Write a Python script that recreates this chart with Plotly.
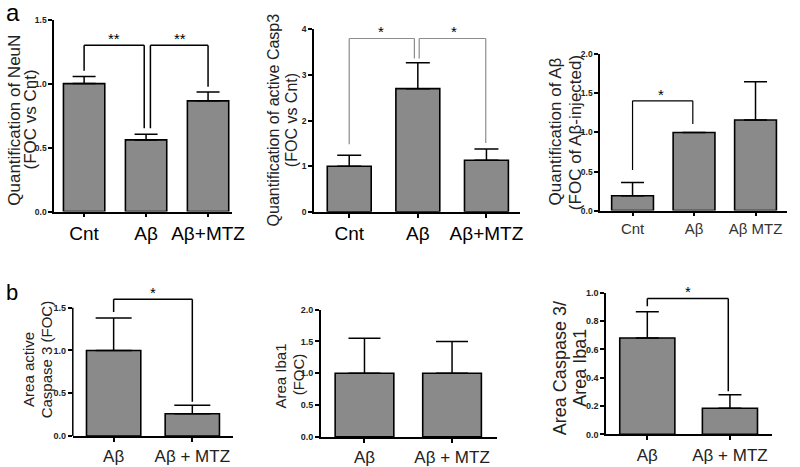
import plotly.graph_objects as go

# ---------------- data ----------------
cats_a = ["Cnt", "Aβ", "Aβ+MTZ"]
cats_a3 = ["Cnt", "Aβ", "Aβ MTZ"]
cats_b = ["Aβ", "Aβ + MTZ"]

neun_mean = [1.0, 0.56, 0.865]
neun_err = [0.055, 0.045, 0.07]

casp3_mean = [1.0, 2.70, 1.13]
casp3_err = [0.24, 0.57, 0.25]

abeta_mean = [0.19, 1.0, 1.16]
abeta_err = [0.17, 0.0, 0.49]

area_casp3_mean = [1.0, 0.26]
area_casp3_err = [0.38, 0.10]

iba1_mean = [1.0, 1.0]
iba1_err = [0.55, 0.50]

ratio_mean = [0.68, 0.184]
ratio_err = [0.185, 0.096]

yticks_a1 = [0.0, 0.5, 1.0, 1.5]
yticks_a2 = [0, 1, 2, 3, 4]
yticks_a3 = [0.0, 0.5, 1.0, 1.5, 2.0]
yticks_b1 = [0.0, 0.5, 1.0, 1.5]
yticks_b2 = [0.0, 0.5, 1.0, 1.5, 2.0]
yticks_b3 = [0.0, 0.2, 0.4, 0.6, 0.8, 1.0]

# significance brackets: (x_left, x_right, y_bar, y_left_end, y_right_end, label, x_label, y_label)
brackets_a1 = [(0.0, 0.97, 1.30, 1.10, 0.65, "**", 0.48, 1.30),
               (1.07, 2.0, 1.30, 0.65, 0.975, "**", 1.54, 1.30)]
brackets_a2 = [(0.0, 0.95, 3.80, 1.48, 3.36, "*", 0.47, 3.80),
               (1.02, 1.99, 3.80, 3.36, 1.51, "*", 1.53, 3.80)]
brackets_a3 = [(0.0, 0.98, 1.405, 0.52, 1.11, "*", 0.47, 1.405)]
brackets_b1 = [(0.0, 1.0, 1.60, 1.45, 0.40, "*", 0.5, 1.60)]
brackets_b2 = []
brackets_b3 = [(0.0, 0.98, 0.96, 0.905, 0.305, "*", 0.49, 0.96)]

W, H = 800, 467
FONT = "Liberation Sans, Arial, sans-serif"
BAR = "#8a8a8a"


def px(x):
    return x / W


def py(y):
    return 1 - y / H


panels = [
    dict(i=1, cats=cats_a, m=neun_mean, e=neun_err, xd=(55, 236), yd=(212, 15), yr=(0, 1.5),
         xr=(-0.484, 2.389), w=0.667, cap=11.5, yt=yticks_a1, fmt=".1f", cf=19, cc="black",
         br=brackets_a1, bc="black", bw=1.5, top=None),
    dict(i=2, cats=cats_a, m=casp3_mean, e=casp3_err, xd=(319, 529), yd=(212.3, 25), yr=(0, 4),
         xr=(-0.516, 2.495), w=0.64, cap=12, yt=yticks_a2, fmt="d", cf=19, cc="black",
         br=brackets_a2, bc="#8c8c8c", bw=1.2, top=None),
    dict(i=3, cats=cats_a3, m=abeta_mean, e=abeta_err, xd=(610, 800), yd=(211, 50.7), yr=(0, 2),
         xr=(-0.528, 2.512), w=0.68, cap=11.5, yt=yticks_a3, fmt=".1f", cf=15, cc="#333333",
         br=brackets_a3, bc="black", bw=1.2, top=None),
    dict(i=4, cats=cats_b, m=area_casp3_mean, e=area_casp3_err, xd=(74, 237), yd=(442.3, 295), yr=(0, 1.679),
         xr=(-0.519, 1.519), w=0.69, cap=18, yt=yticks_b1, fmt=".1f", cf=17, cc="#222222",
         br=brackets_b1, bc="black", bw=1.5, top=1.5),
    dict(i=5, cats=cats_b, m=iba1_mean, e=iba1_err, xd=(326, 505), yd=(443.3, 312.7), yr=(0, 2),
         xr=(-0.5, 1.511), w=0.67, cap=16, yt=yticks_b2, fmt=".1f", cf=17, cc="#222222",
         br=brackets_b2, bc="black", bw=1.5, top=None),
    dict(i=6, cats=cats_b, m=ratio_mean, e=ratio_err, xd=(616, 785), yd=(440.7, 295.3), yr=(0, 1),
         xr=(-0.5, 1.512), w=0.667, cap=11.5, yt=yticks_b3, fmt=".1f", cf=17, cc="#222222",
         br=brackets_b3, bc="black", bw=1.5, top=None),
]

fig = go.Figure()
shapes = []
annotations = []

for p in panels:
    i = p["i"]
    xa = "x" if i == 1 else f"x{i}"
    ya = "y" if i == 1 else f"y{i}"
    xkey = "xaxis" if i == 1 else f"xaxis{i}"
    ykey = "yaxis" if i == 1 else f"yaxis{i}"
    n = len(p["m"])
    fig.add_trace(go.Bar(
        x=p["cats"], y=p["m"], xaxis=xa, yaxis=ya, width=p["w"],
        marker=dict(color=BAR, line=dict(color="black", width=1.6)),
        error_y=dict(type="data", array=p["e"], arrayminus=[0] * n, symmetric=False,
                     color="black", thickness=1.5, width=p["cap"]),
        hoverinfo="skip",
    ))
    fig.layout[xkey] = dict(
        domain=[px(p["xd"][0]), px(p["xd"][1])], anchor=ya, type="category",
        categoryorder="array", categoryarray=p["cats"], range=list(p["xr"]),
        showline=True, linecolor="black", linewidth=1.5, ticks="outside",
        ticklen=4, tickwidth=1.5, tickcolor="black", showgrid=False, zeroline=False,
        tickfont=dict(family=FONT, size=p["cf"], color=p["cc"]),
    )
    fig.layout[ykey] = dict(
        domain=[py(p["yd"][0]), py(p["yd"][1])], anchor=xa, range=list(p["yr"]),
        showline=p["top"] is None, linecolor="black", linewidth=1.5, ticks="outside",
        ticklen=4, tickwidth=1.5, tickcolor="black", showgrid=False, zeroline=False,
        tickmode="array", tickvals=p["yt"],
        ticktext=[format(v, p["fmt"]) if p["fmt"] != "d" else str(int(v)) for v in p["yt"]],
        tickfont=dict(family=FONT, size=8.5 if i <= 3 else 9, color="#222222", weight="bold"),
    )
    if p["top"] is not None:
        shapes.append(dict(type="line", xref=f"{xa} domain", yref=ya, x0=0, x1=0,
                           y0=0, y1=p["top"], line=dict(color="black", width=1.5)))
    for (x0, x1, yb, yl, yr_, lab, xl, yl2) in p["br"]:
        for seg in [(x0, yl, x0, yb), (x0, yb, x1, yb), (x1, yb, x1, yr_)]:
            shapes.append(dict(type="line", xref=xa, yref=ya, x0=seg[0], y0=seg[1],
                               x1=seg[2], y1=seg[3], line=dict(color=p["bc"], width=p["bw"])))
        annotations.append(dict(text=lab, xref=xa, yref=ya, x=xl, y=yl2, showarrow=False,
                                xanchor="center", yanchor="bottom", yshift=-4,
                                font=dict(family=FONT, size=15, color="black")))

# axis titles (two lines each)
titles = [
    ("Quantification of NeuN", 15, 118, 17), ("(FOC vs Cnt)", 32, 117, 17),
    ("Quantification of active Casp3", 279, 118, 16), ("(FOC vs Cnt)", 297, 118, 16),
    ("Quantification of Aβ", 565, 130, 17), ("(FOC of Aβ-injected)", 585, 131, 17),
    ("Area active", 29, 374, 15), ("Caspase 3 (FOC)", 47.5, 364, 15),
    ("Area Iba1", 285, 381, 15), ("(FOC)", 303, 379, 15),
    ("Area Caspase 3/", 570, 373, 18), ("Area Iba1", 590, 372, 18),
]
for t, x, y, s in titles:
    annotations.append(dict(text=t, xref="paper", yref="paper", x=px(x), y=py(y),
                            xanchor="center", yanchor="middle", textangle=-90, showarrow=False,
                            font=dict(family=FONT, size=s, color="#222222")))

annotations.append(dict(text="a", xref="paper", yref="paper", x=px(4), y=py(-8), xanchor="left",
                        yanchor="top", showarrow=False, font=dict(family=FONT, size=24, color="black")))
annotations.append(dict(text="b", xref="paper", yref="paper", x=px(4), y=py(280), xanchor="left",
                        yanchor="top", showarrow=False, font=dict(family=FONT, size=22, color="black")))

fig.update_layout(
    width=W, height=H, margin=dict(l=0, r=0, t=0, b=0),
    paper_bgcolor="white", plot_bgcolor="white", showlegend=False,
    shapes=shapes, annotations=annotations,
    font=dict(family=FONT),
)

fig.write_html("out.html", config={"displayModeBar": False},
               post_script="document.body.style.margin='0px';")
